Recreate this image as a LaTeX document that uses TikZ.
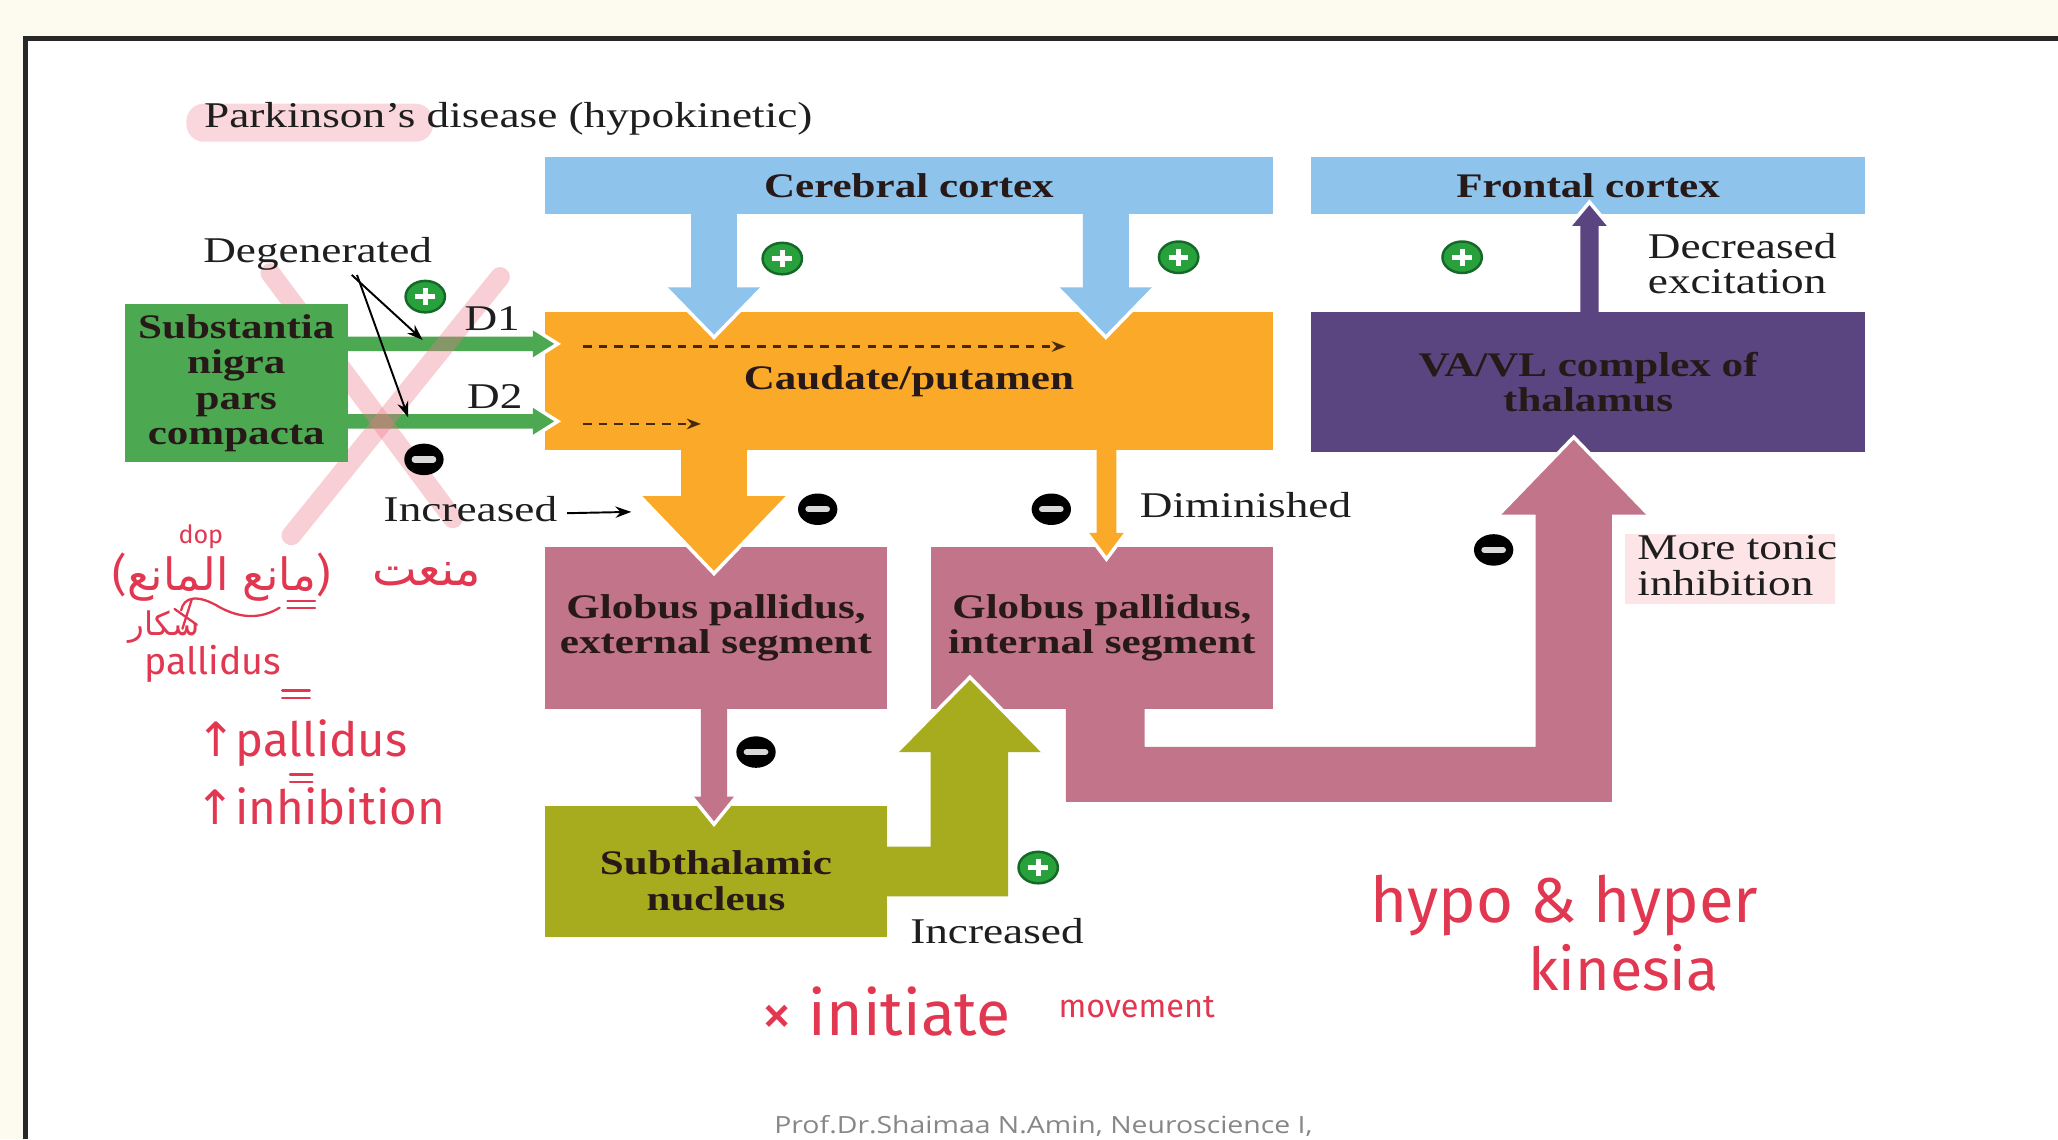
\documentclass[tikz,border=0pt]{standalone}
\usepackage{fontspec}
\usepackage{graphicx}
\usetikzlibrary{calc,arrows.meta}
\setmainfont[FakeStretch=1.25]{Liberation Serif}
\newfontfamily\notefont{Fira Sans}
\newfontfamily\dejavusym{DejaVu Sans}
\newfontfamily\arabicfont[Script=Arabic]{DejaVu Sans}
\newfontfamily\footfont[FakeStretch=1.2]{Open Sans}
\TeXXeTstate=1

% one drawing unit of the picture
\newlength\dpl \setlength\dpl{0.013125cm}
\def\dpx{0.37343pt}

\definecolor{cream}{RGB}{253,251,240}
\definecolor{framegray}{RGB}{40,40,40}
\definecolor{cblue}{RGB}{142,196,236}
\definecolor{corange}{RGB}{250,170,40}
\definecolor{cgreen}{RGB}{77,168,82}
\definecolor{cmauve}{RGB}{193,116,138}
\definecolor{colive}{RGB}{166,172,30}
\definecolor{cpurple}{RGB}{90,69,128}
\definecolor{boxtext}{RGB}{40,25,25}
\definecolor{labtext}{RGB}{30,30,30}
\definecolor{pgreen}{RGB}{40,160,60}
\definecolor{pgreenrim}{RGB}{20,105,40}
\definecolor{dashbrown}{RGB}{70,40,10}
\definecolor{hlpink}{RGB}{248,208,214}
\definecolor{hlpinklight}{RGB}{252,228,231}
\definecolor{xpink}{RGB}{240,120,140}
\definecolor{ink}{RGB}{225,55,80}
\definecolor{footgray}{RGB}{135,135,135}

\newcommand\boxfont{\fontsize{9.8}{10.1}\selectfont\bfseries}
\newcommand\labfont{\fontsize{10.3}{10.1}\selectfont}
\newcommand\titlefont{\fontsize{10.3}{12}\selectfont}

% vertical block arrow: colour, start, tip, shaft half-width, head half-width, head length
\newcommand\vblock[6]{%
  \fill[#1] let \p1=(#2), \p2=(#3), \n1={sign(\y1-\y2)} in
    ({\x1-#4*\dpx},\y1) -- ({\x1+#4*\dpx},\y1)
    -- ({\x1+#4*\dpx},{\y2+\n1*#6*\dpx}) -- ({\x1+#5*\dpx},{\y2+\n1*#6*\dpx})
    -- (\x1,\y2) -- ({\x1-#5*\dpx},{\y2+\n1*#6*\dpx})
    -- ({\x1-#4*\dpx},{\y2+\n1*#6*\dpx}) -- cycle;
  \draw[headedge] let \p1=(#2), \p2=(#3), \n1={sign(\y1-\y2)} in
    ({\x1+#5*\dpx},{\y2+\n1*#6*\dpx}) -- (\x1,\y2) -- ({\x1-#5*\dpx},{\y2+\n1*#6*\dpx});}

% horizontal block arrow, same arguments
\newcommand\hblock[6]{%
  \fill[#1] let \p1=(#2), \p2=(#3), \n1={sign(\x1-\x2)} in
    (\x1,{\y1-#4*\dpx}) -- (\x1,{\y1+#4*\dpx})
    -- ({\x2+\n1*#6*\dpx},{\y1+#4*\dpx}) -- ({\x2+\n1*#6*\dpx},{\y1+#5*\dpx})
    -- (\x2,\y1) -- ({\x2+\n1*#6*\dpx},{\y1-#5*\dpx})
    -- ({\x2+\n1*#6*\dpx},{\y1-#4*\dpx}) -- cycle;
  \draw[headedge] let \p1=(#2), \p2=(#3), \n1={sign(\x1-\x2)} in
    ({\x2+\n1*#6*\dpx},{\y1+#5*\dpx}) -- (\x2,\y1) -- ({\x2+\n1*#6*\dpx},{\y1-#5*\dpx});}

\tikzset{
  box/.style={rectangle, inner sep=0pt, outer sep=0pt, align=center, text=boxtext, font=\boxfont},
  lab/.style={inner sep=0pt, text=labtext, font=\labfont},
  headedge/.style={white, line width=1pt, line join=miter},
  note/.style={inner sep=0pt, text=ink},
  inkline/.style={ink, line width=0.65pt, line cap=round},
  thinarrow/.style={black, line width=0.55pt, -{Stealth[length=4.5pt, width=3.2pt]}},
  dasharrow/.style={dashbrown, line width=0.8pt, dash pattern=on 2.5pt off 2pt, -{Stealth[length=4pt, width=3pt]}},
  pluspin/.pic={
    \fill[pgreen, draw=pgreenrim, line width=0.7pt] (0,0) ellipse [x radius=15, y radius=12];
    \draw[white, line width=1.5pt] (-7.5,0) -- (7.5,0) (0,-6.5) -- (0,6.5);},
  minuspin/.pic={
    \fill[black] (0,0) ellipse [x radius=15, y radius=12];
    \draw[white!85!black, line width=1.8pt, line cap=round] (-7,0) -- (7,0);},
}

\begin{document}
\begin{tikzpicture}[x=0.013125cm, y=-0.013125cm]
\useasboundingbox (0,0) rectangle (1568,868);

% page and frame
\fill[cream] (0,0) rectangle (1568,868);
\fill[white] (18,28) rectangle (1568,868);
\draw[framegray, line width=1.3pt] (19.5,868) -- (19.5,29.5) -- (1568,29.5);

% highlighter marks
\fill[hlpink, rounded corners=5pt, opacity=0.85] (142,79) rectangle (330,108);
\fill[hlpinklight] (1238,407) rectangle (1398,460);

% title
\node[lab, anchor=base west, font=\titlefont] (title) at (155,97) {Parkinson’s disease (hypokinetic)};

% structures
\node[box, fill=cblue, minimum width=555*\dpx, minimum height=43*\dpx] (cc) at (692.5,141.5) {Cerebral cortex};
\node[box, fill=cblue, minimum width=422*\dpx, minimum height=43*\dpx] (fc) at (1210,141.5) {Frontal cortex};
\node[box, fill=corange, minimum width=555*\dpx, minimum height=105*\dpx] (cp) at (692.5,290.5) {Caudate/putamen};
\node[box, fill=cgreen, minimum width=170*\dpx, minimum height=120*\dpx] (sn) at (180,292) {Substantia\\nigra\\pars\\compacta};
\node[box, fill=cmauve, minimum width=261*\dpx, minimum height=123*\dpx] (gpe) at (545.5,478.5) {Globus pallidus,\\external segment};
\node[box, fill=cmauve, minimum width=261*\dpx, minimum height=123*\dpx] (gpi) at (839.5,478.5) {Globus pallidus,\\internal segment};
\node[box, fill=colive, minimum width=261*\dpx, minimum height=100*\dpx] (stn) at (545.5,664) {};
\node[box] (stnlabel) at (545.5,671) {Subthalamic\\nucleus};
\node[box, fill=cpurple, minimum width=422*\dpx, minimum height=106*\dpx] (th) at (1210,291) {VA/VL complex of\\thalamus};

% cortex -> striatum
\coordinate (b1s) at ([shift={(-148.5,0)}]cc.south);
\coordinate (b1t) at ([shift={(-148.5,19)}]cp.north);
\vblock{cblue}{b1s}{b1t}{17.5}{37}{38}
\coordinate (b2s) at ([shift={(150,0)}]cc.south);
\coordinate (b2t) at ([shift={(150,19)}]cp.north);
\vblock{cblue}{b2s}{b2t}{17.5}{37}{38}

% nigrostriatal D1 / D2
\coordinate (d1s) at ([shift={(0,-30)}]sn.east);
\coordinate (d1t) at ([shift={(10,-28.5)}]cp.west);
\hblock{cgreen}{d1s}{d1t}{5.5}{12}{19}
\coordinate (d2s) at ([shift={(0,29)}]sn.east);
\coordinate (d2t) at ([shift={(10,30.5)}]cp.west);
\hblock{cgreen}{d2s}{d2t}{5.5}{12}{19}

% striatum -> GPe (increased) and GPi (diminished)
\coordinate (o1s) at ([shift={(-148.5,0)}]cp.south);
\coordinate (o1t) at ([shift={(-1.5,20)}]gpe.north);
\vblock{corange}{o1s}{o1t}{25}{56.5}{59}
\coordinate (o2s) at ([shift={(150.5,0)}]cp.south);
\coordinate (o2t) at ([shift={(3.5,9)}]gpi.north);
\vblock{corange}{o2s}{o2t}{7.5}{15}{20}

% GPe -> STN
\coordinate (m1s) at ([shift={(-1.5,0)}]gpe.south);
\coordinate (m1t) at ([shift={(-1.5,14)}]stn.north);
\vblock{cmauve}{m1s}{m1t}{10}{17}{21}

% thalamus -> frontal cortex
\coordinate (p1s) at ([shift={(1,0)}]th.north);
\coordinate (p1t) at ([shift={(1,-9)}]fc.south);
\vblock{cpurple}{p1s}{p1t}{7}{15}{18}

% STN -> GPi
\fill[colive] ([shift={(-4,-19)}]stn.east) -- (709,645) -- (709,573) -- (683,573) -- (739,516)
  -- (795,573) -- (768,573) -- (768,683) -- ([shift={(-4,19)}]stn.east) -- cycle;
\draw[headedge] (683,573) -- (739,516) -- (795,573);

% GPi -> thalamus
\fill[cmauve] ([shift={(-27.5,-4)}]gpi.south) -- ([shift={(32.5,-4)}]gpi.south) -- (872,569) -- (1170,569)
  -- (1170,392) -- (1142,392) -- (1199,333) -- (1256,392) -- (1228,392) -- (1228,611) -- (812,611) -- cycle;
\draw[headedge] (1142,392) -- (1199,333) -- (1256,392);

% dashed pathways inside the striatum
\coordinate (ds1) at (444,264);
\coordinate (de1) at (812,264);
\coordinate (ds2) at (444,323);
\coordinate (de2) at (534,323);
\draw[dasharrow] (ds1) -- (de1);
\draw[dasharrow] (ds2) -- (de2);

% crossed-out nigral input
\begin{scope}
  \clip (0,0) rectangle (1568,232) (265,232) rectangle (1568,868) (0,352) rectangle (265,868);
  \draw[xpink, line width=15*\dpx, opacity=0.35, line cap=round] (206,208) -- (345,395);
  \draw[xpink, line width=15*\dpx, opacity=0.35, line cap=round] (381,211) -- (222,408);
\end{scope}

% excitatory / inhibitory marks
\pic (plusA) at (596,197) {pluspin};
\pic (plusB) at (898,196) {pluspin};
\pic (plusC) at (1114,196) {pluspin};
\pic (plusD) at (324,226) {pluspin};
\pic (plusE) at (791,661) {pluspin};
\pic (minusA) at (323,350) {minuspin};
\pic (minusB) at (623,388) {minuspin};
\pic (minusC) at (801,388) {minuspin};
\pic (minusD) at (1138,419) {minuspin};
\pic (minusE) at (576,573) {minuspin};

% labels
\node[lab, anchor=base] (deg) at (242,200) {Degenerated};
\node[lab, anchor=base] (d1lab) at (375,252) {D1};
\node[lab, anchor=base] (d2lab) at (377,311) {D2};
\node[lab, anchor=base east] (inc1) at (425,397) {Increased};
\node[lab, anchor=base west] (dim) at (868,394) {Diminished};
\node[lab, anchor=west, align=left] (decx) at (1255,201) {Decreased\\excitation};
\node[lab, anchor=west, align=left] (tonic) at (1247,431) {More tonic\\inhibition};
\node[lab, anchor=base west] (inc2) at (693,719) {Increased};

\coordinate (d1p) at (322,259);
\coordinate (d2p) at (311,318);
\draw[thinarrow] ([shift={(26,3)}]deg.south) -- (d1p);
\draw[thinarrow] ([shift={(30,3)}]deg.south) -- (d2p);
\coordinate (incend) at (481,390);
\draw[thinarrow] ([shift={(7,-6)}]inc1.base east) -- (incend);

% handwritten notes
\node[note] (n1) at (153,409) {\resizebox{34\dpl}{!}{\notefont dop}};
\node[note] (n2) at (169,440) {\resizebox{166\dpl}{!}{\notefont(\arabicfont\beginR مانع المانع\endR\notefont)}};
\node[note] (n3) at (325,438) {\resizebox{83\dpl}{!}{\arabicfont\beginR منعت\endR}};
\draw[inkline] (138,465) .. controls (140,455) and (150,452) .. (168,463) .. controls (185,472) and (200,471) .. (213,463);
\draw[inkline] (219,458) -- (240,458) (219,463) -- (240,463);
\draw[inkline] (133,464) -- (150,476) (146,457) -- (139,479);
\node[note] (n4) at (125,478) {\resizebox{54\dpl}{!}{\arabicfont\beginR سكار\endR}};
\node[note] (n5) at (162,506) {\resizebox{104\dpl}{!}{\notefont pallidus}};
\draw[inkline] (215,526) -- (236,526) (215,532) -- (236,532);
\node[note] (n6) at (230,566) {\resizebox{161\dpl}{!}{{\dejavusym ↑}\notefont pallidus}};
\draw[inkline] (221,590) -- (238,590) (221,596) -- (238,596);
\node[note] (n7) at (244,614) {\resizebox{190\dpl}{!}{{\dejavusym ↑}\notefont inhibition}};
\node[note] (n8) at (675,771) {\resizebox{190\dpl}{!}{\notefont × initiate}};
\node[note] (n9) at (866,767) {\resizebox{119\dpl}{!}{\notefont movement}};
\node[note] (n10) at (1192,690) {\resizebox{295\dpl}{!}{\notefont hypo \& hyper}};
\node[note] (n11) at (1237,737) {\resizebox{145\dpl}{!}{\notefont kinesia}};

% footer
\node[inner sep=0pt, text=footgray] (foot) at (795,858) {\resizebox{410\dpl}{!}{\footfont Prof.Dr.Shaimaa N.Amin, Neuroscience I,}};
\end{tikzpicture}
\end{document}
